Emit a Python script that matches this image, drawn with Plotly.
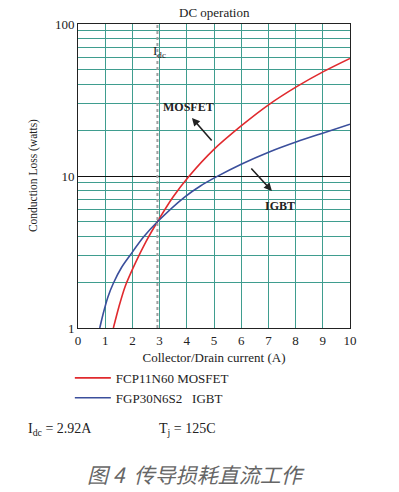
import plotly.graph_objects as go

# ---- data ----
current_mosfet = [1.30, 1.50, 1.73, 2.12, 2.50, 2.92, 3.50, 4.09, 4.97, 6.02, 7.03, 8.04, 9.02, 10.0]
loss_mosfet = [1.0, 1.37, 1.87, 2.7, 3.7, 5.0, 7.3, 10.0, 14.8, 21.5, 29.6, 38.7, 48.6, 59.4]

current_igbt = [0.80, 0.93, 1.10, 1.30, 1.60, 1.91, 2.40, 2.92, 3.93, 4.50, 5.10, 6.02, 7.03, 8.04, 9.02, 10.0]
loss_igbt = [1.0, 1.25, 1.6, 1.97, 2.5, 3.0, 3.95, 5.0, 7.3, 8.6, 9.9, 12.0, 14.4, 16.8, 19.2, 21.9]

x_ticks = [0, 1, 2, 3, 4, 5, 6, 7, 8, 9, 10]
y_ticks = [1, 10, 100]
y_minor = [2, 3, 4, 5, 6, 7, 8, 9, 20, 30, 40, 50, 60, 70, 80, 90]
idc_value = 2.92

SERIF = "Liberation Serif, Times New Roman, serif"
TEAL = "#3f9d8f"
INK = "#222"

fig = go.Figure()
fig.add_trace(go.Scatter(x=current_mosfet, y=loss_mosfet, mode="lines", name="FCP11N60 MOSFET",
                         line=dict(color="#e02a2e", width=1.6, shape="spline", smoothing=0.8)))
fig.add_trace(go.Scatter(x=current_igbt, y=loss_igbt, mode="lines", name="FGP30N6S2   IGBT",
                         line=dict(color="#3b4f9c", width=1.6, shape="spline", smoothing=0.8)))

# Idc dotted line
fig.add_shape(type="line", x0=idc_value, x1=idc_value, y0=0, y1=1, xref="x", yref="paper",
              line=dict(color="#a0a0a0", width=2, dash="dot"), layer="above")

fig.update_layout(
    width=399, height=492,
    margin=dict(l=78, r=49, t=24, b=164),
    paper_bgcolor="white", plot_bgcolor="white",
    font=dict(family=SERIF, size=13, color=INK),
    showlegend=True,
    legend=dict(x=-0.03, y=-0.115, xanchor="left", yanchor="top", bgcolor="rgba(0,0,0,0)",
                font=dict(family=SERIF, size=13, color=INK), tracegroupgap=0,
                itemwidth=36),
    xaxis=dict(range=[0, 10], tickvals=x_ticks, showgrid=True, gridcolor=TEAL, gridwidth=1,
               zeroline=False, showline=True, linecolor=INK, linewidth=1, mirror=True,
               ticks="", tickfont=dict(family=SERIF, size=13, color=INK),
               title=dict(text="Collector/Drain current (A)", font=dict(family=SERIF, size=13), standoff=6)),
    yaxis=dict(type="log", range=[0, 2], tickvals=y_ticks, ticktext=["1", "10", "100"],
               showgrid=True, gridcolor="#111", gridwidth=1,
               minor=dict(tickvals=y_minor, showgrid=True, gridcolor=TEAL, gridwidth=1, ticks=""),
               zeroline=False, showline=True, linecolor=INK, linewidth=1, mirror=True,
               ticks="", tickfont=dict(family=SERIF, size=13, color=INK)),
)

annotations = [
    dict(text="DC operation", x=0.502, y=1.039, xref="paper", yref="paper", xanchor="center",
         yanchor="middle", showarrow=False, font=dict(family=SERIF, size=13, color=INK)),
    dict(text="Conduction Loss (watts)", x=-0.165, y=0.5, xref="paper", yref="paper",
         xanchor="center", yanchor="middle",
         textangle=-90, showarrow=False, font=dict(family=SERIF, size=11.5, color=INK)),
    dict(text="I<sub>dc</sub>", x=2.68, y=1.816, xref="x", yref="y", xanchor="left",
         yanchor="middle", showarrow=False, font=dict(family=SERIF, size=13, color=INK)),
    dict(text="<b>MOSFET</b>", x=4.08, y=1.454, xref="x", yref="y", showarrow=False,
         font=dict(family=SERIF, size=12, color=INK)),
    dict(text="<b>IGBT</b>", x=7.43, y=0.803, xref="x", yref="y", showarrow=False,
         font=dict(family=SERIF, size=12, color=INK)),
    dict(text="", x=4.19, y=1.382, xref="x", yref="y", showarrow=True, ax=21, ay=24,
         arrowhead=2, arrowsize=1, arrowwidth=1.6, arrowcolor=INK),
    dict(text="", x=7.13, y=0.901, xref="x", yref="y", showarrow=True, ax=-22, ay=-24,
         arrowhead=2, arrowsize=1, arrowwidth=1.6, arrowcolor=INK),
    dict(text="I<sub>dc</sub> = 2.92A", x=-0.19, y=-0.3355, xref="paper", yref="paper",
         xanchor="left", yanchor="middle", showarrow=False,
         font=dict(family=SERIF, size=14, color=INK)),
    dict(text="T<sub>j</sub> = 125C", x=0.29, y=-0.3355, xref="paper", yref="paper",
         xanchor="left", yanchor="middle", showarrow=False,
         font=dict(family=SERIF, size=14, color=INK)),
    dict(text="<i>图 4  传导损耗直流工作</i>", x=0.434, y=-0.48, xref="paper", yref="paper",
         xanchor="center", yanchor="middle", showarrow=False,
         font=dict(family="Noto Sans CJK SC", size=21, color="#666")),
]
fig.update_layout(annotations=annotations)

fig.write_html("out.html", config={"displayModeBar": False},
               post_script="document.body.style.margin='0px';")
